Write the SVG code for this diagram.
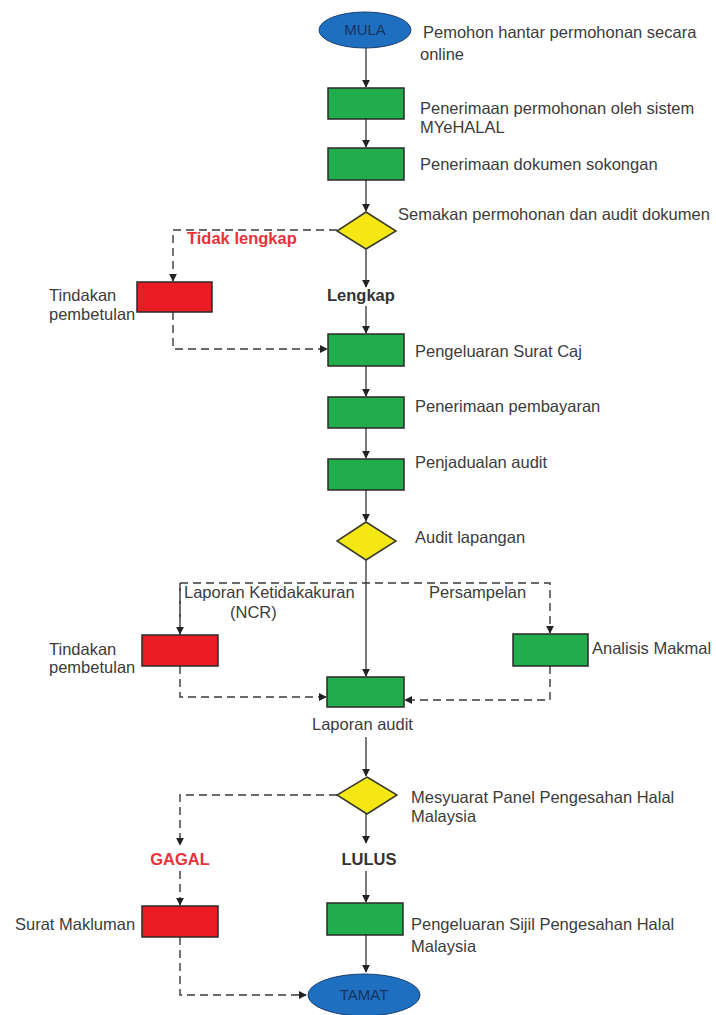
<svg xmlns="http://www.w3.org/2000/svg" width="716" height="1015" viewBox="0 0 716 1015">
<defs>
<marker id="ah" viewBox="0 0 10 10" refX="9" refY="5" markerWidth="8" markerHeight="8" markerUnits="userSpaceOnUse" orient="auto"><path d="M0,0 L10,5 L0,10 z" fill="#222"/></marker>
<style>
.t{font-family:"Liberation Sans",Arial,sans-serif;font-size:16.5px;fill:#3c3c3c}
.b{font-family:"Liberation Sans",Arial,sans-serif;font-size:16.5px;font-weight:bold}
.g{fill:#21ad4b;stroke:#2a2a2a;stroke-width:1.5}
.r{fill:#ec1c24;stroke:#2a2a2a;stroke-width:1.5}
.y{fill:#f4e714;stroke:#3a3a2a;stroke-width:1.5}
.e{fill:#1f6fc0;stroke:#1b3f70;stroke-width:1}
.et{font-family:"Liberation Sans",Arial,sans-serif;font-size:15px;fill:#17335e;text-anchor:middle}
.s{fill:none;stroke:#333;stroke-width:1.3}
.d{fill:none;stroke:#3a3a3a;stroke-width:1.4;stroke-dasharray:8 5}
</style>
</defs>
<rect width="716" height="1015" fill="#fff"/>
<g id="connectors">
<path class="s" d="M366,48 V87" marker-end="url(#ah)"/>
<path class="s" d="M366,119 V147" marker-end="url(#ah)"/>
<path class="s" d="M366,180 V211" marker-end="url(#ah)"/>
<path class="s" d="M366,249 V287" marker-end="url(#ah)"/>
<path class="s" d="M366,306 V333" marker-end="url(#ah)"/>
<path class="s" d="M366,366 V396" marker-end="url(#ah)"/>
<path class="s" d="M366,428 V458" marker-end="url(#ah)"/>
<path class="s" d="M366,490 V521" marker-end="url(#ah)"/>
<path class="s" d="M366,560 V676" marker-end="url(#ah)"/>
<path class="s" d="M366,737 V776" marker-end="url(#ah)"/>
<path class="s" d="M366,814 V843" marker-end="url(#ah)"/>
<path class="s" d="M366,871 V902" marker-end="url(#ah)"/>
<path class="s" d="M366,935 V972" marker-end="url(#ah)"/>
<path class="d" d="M337,230 H173 V281" marker-end="url(#ah)"/>
<path class="d" d="M173,312 V349 H327" marker-end="url(#ah)"/>
<path class="d" d="M180,635 V583 H550 V633" marker-end="url(#ah)"/>
<path class="d" d="M180,583 V634" marker-end="url(#ah)"/>
<path class="d" d="M180,666 V697 H326" marker-end="url(#ah)"/>
<path class="d" d="M550,666 V700 H405" marker-end="url(#ah)"/>
<path class="d" d="M337,795 H180 V845" marker-end="url(#ah)"/>
<path class="d" d="M180,871 V905" marker-end="url(#ah)"/>
<path class="d" d="M180,937 V995 H306" marker-end="url(#ah)"/>
</g>
<g id="mula"><ellipse class="e" cx="365" cy="30" rx="46" ry="18"/><text class="et" x="365" y="35">MULA</text>
<text class="t" x="423" y="38">Pemohon hantar permohonan secara</text><text class="t" x="420" y="60">online</text></g>
<g id="n1"><rect class="g" x="328" y="88" width="76" height="31"/><text class="t" x="420" y="114">Penerimaan permohonan oleh sistem</text><text class="t" x="420" y="133">MYeHALAL</text></g>
<g id="n2"><rect class="g" x="328" y="148" width="76" height="32"/><text class="t" x="420" y="170">Penerimaan dokumen sokongan</text></g>
<g id="d1"><path class="y" d="M366,212 L396,231 L366,249 L337,231 z"/><text class="t" x="398" y="220">Semakan permohonan dan audit dokumen</text></g>
<text class="b" x="187" y="244" fill="#e8323c">Tidak lengkap</text>
<g id="r1"><rect class="r" x="137" y="282" width="75" height="30"/><text class="t" x="49" y="301">Tindakan</text><text class="t" x="49" y="320">pembetulan</text></g>
<text class="b" x="327" y="301" fill="#333">Lengkap</text>
<g id="n3"><rect class="g" x="328" y="334" width="76" height="32"/><text class="t" x="415" y="357">Pengeluaran Surat Caj</text></g>
<g id="n4"><rect class="g" x="328" y="397" width="76" height="31"/><text class="t" x="415" y="412">Penerimaan pembayaran</text></g>
<g id="n5"><rect class="g" x="328" y="459" width="76" height="31"/><text class="t" x="415" y="468">Penjadualan audit</text></g>
<g id="d2"><path class="y" d="M366,522 L396,541 L366,560 L337,541 z"/><text class="t" x="415" y="543">Audit lapangan</text></g>
<text class="t" x="184" y="598">Laporan Ketidakakuran</text>
<text class="t" x="230" y="618">(NCR)</text>
<text class="t" x="429" y="598">Persampelan</text>
<g id="r2"><rect class="r" x="142" y="635" width="76" height="31"/><text class="t" x="49" y="655">Tindakan</text><text class="t" x="49" y="673">pembetulan</text></g>
<g id="n7"><rect class="g" x="513" y="634" width="75" height="32"/><text class="t" x="592" y="654">Analisis Makmal</text></g>
<g id="n6"><rect class="g" x="327" y="677" width="77" height="30"/><text class="t" x="312" y="730">Laporan audit</text></g>
<g id="d3"><path class="y" d="M367,777 L397,795 L367,814 L337,795 z"/><text class="t" x="411" y="803">Mesyuarat Panel Pengesahan Halal</text><text class="t" x="411" y="822">Malaysia</text></g>
<text class="b" x="180" y="865" fill="#e8323c" text-anchor="middle">GAGAL</text>
<text class="b" x="369" y="865" fill="#333" text-anchor="middle">LULUS</text>
<g id="r3"><rect class="r" x="142" y="906" width="76" height="31"/><text class="t" x="15" y="930">Surat Makluman</text></g>
<g id="n8"><rect class="g" x="327" y="903" width="76" height="32"/><text class="t" x="411" y="930">Pengeluaran Sijil Pengesahan Halal</text><text class="t" x="411" y="952">Malaysia</text></g>
<g id="tamat"><ellipse class="e" cx="364" cy="995" rx="56" ry="21"/><text class="et" x="364" y="1000">TAMAT</text></g>
</svg>
